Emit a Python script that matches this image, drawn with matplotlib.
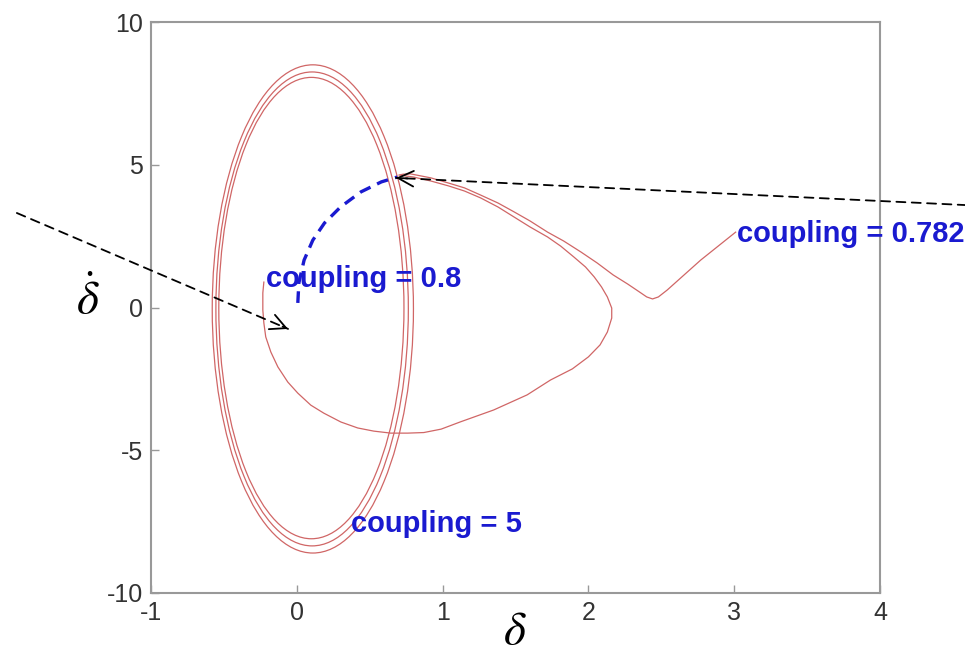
import matplotlib
matplotlib.use("Agg")
import matplotlib.pyplot as plt
from matplotlib.patches import Ellipse

plt.rcParams["font.family"] = ["Liberation Sans", "DejaVu Sans"]
plt.rcParams["mathtext.fontset"] = "stix"
plt.rcParams["axes.unicode_minus"] = False

# Closed orbits for coupling = 5 (centre x, centre y, half-width, half-height)
orbit_cx = [0.11, 0.105, 0.10]
orbit_cy = [-0.05, -0.05, -0.02]
orbit_hw = [0.69, 0.66, 0.635]
orbit_hh = [8.55, 8.30, 8.08]

# Trajectory for coupling = 0.782
traj_x = [3.01, 2.77, 2.54, 2.48, 2.44, 2.40, 2.36, 2.27, 2.17, 2.06, 1.95, 1.83,
          1.72, 1.60, 1.49, 1.38, 1.26, 1.15, 1.04, 0.92, 0.78, 0.73, 0.70,
          0.80, 0.92, 1.04, 1.15, 1.26, 1.38, 1.49, 1.60, 1.72, 1.81, 1.90, 1.98,
          2.04, 2.09, 2.13, 2.16, 2.16, 2.13, 2.08, 2.00, 1.89, 1.74, 1.58, 1.35,
          1.12, 0.99, 0.871, 0.761, 0.645, 0.528, 0.418, 0.302, 0.185, 0.096,
          0.007, -0.062, -0.130, -0.178, -0.213, -0.226, -0.233, -0.233, -0.226]
traj_y = [2.64, 1.66, 0.61, 0.37, 0.30, 0.37, 0.51, 0.82, 1.14, 1.56, 1.94, 2.33,
          2.64, 3.03, 3.35, 3.66, 3.94, 4.19, 4.36, 4.54, 4.68, 4.67, 4.64,
          4.57, 4.43, 4.26, 4.08, 3.84, 3.52, 3.17, 2.82, 2.47, 2.15, 1.77, 1.42,
          1.07, 0.72, 0.37, -0.02, -0.37, -0.86, -1.31, -1.73, -2.15, -2.54, -3.06,
          -3.59, -4.01, -4.26, -4.38, -4.40, -4.40, -4.33, -4.22, -4.01, -3.70,
          -3.42, -3.00, -2.61, -2.08, -1.56, -1.03, -0.54, -0.09, 0.51, 0.89]

# Trajectory for coupling = 0.8
blue_x = [0.007, 0.014, 0.05, 0.11, 0.19, 0.30, 0.44, 0.58, 0.69]
blue_y = [0.16, 0.86, 1.66, 2.36, 2.96, 3.52, 4.05, 4.40, 4.57]

labels = ["coupling = 0.8", "coupling = 0.782", "coupling = 5"]
label_x = [-0.21, 3.02, 0.37]
label_y = [0.72, 2.29, -7.86]

# Pointer arrows: (tail, tip)
arrow_tails = [(-1.92, 3.31), (4.70, 3.56)]
arrow_tips = [(-0.06, -0.75), (0.68, 4.54)]

xticks = [-1, 0, 1, 2, 3, 4]
yticks = [-10, -5, 0, 5, 10]

red = "#d06666"
blue = "#1a1ad0"

fig = plt.figure(figsize=(9.65, 6.53), dpi=100)
ax = fig.add_axes([151 / 965, 1 - 593 / 653, (880 - 151) / 965, (593 - 22) / 653])

for cx, cy, hw, hh in zip(orbit_cx, orbit_cy, orbit_hw, orbit_hh):
    ax.add_patch(Ellipse((cx, cy), 2 * hw, 2 * hh, fill=False, edgecolor=red, lw=0.9))

ax.plot(traj_x, traj_y, color=red, lw=0.9)
ax.plot(blue_x, blue_y, color=blue, lw=2.4, ls=(0, (3.5, 2.2)))

for txt, lx, ly in zip(labels, label_x, label_y):
    ax.text(lx, ly, txt, color=blue, fontsize=21, fontweight="bold",
            ha="left", va="baseline", clip_on=False)

for (tx, ty), (hx, hy) in zip(arrow_tails, arrow_tips):
    ax.annotate("", xy=(hx, hy), xytext=(tx, ty), annotation_clip=False,
                arrowprops=dict(arrowstyle="-", color="black", lw=1.3,
                                ls=(0, (5, 3.5)), shrinkA=0, shrinkB=0))
    # solid open head at the tip
    fx = hx + (tx - hx) * 0.02
    fy = hy + (ty - hy) * 0.02
    ax.annotate("", xy=(hx, hy), xytext=(fx, fy), annotation_clip=False,
                arrowprops=dict(arrowstyle="->,head_length=0.8,head_width=0.4",
                                mutation_scale=14, color="black", lw=1.3,
                                shrinkA=0, shrinkB=0))

ax.set_xlim(-1, 4)
ax.set_ylim(-10, 10)
ax.set_xticks(xticks)
ax.set_yticks(yticks)
ax.tick_params(direction="in", length=6, width=1, color="#999999",
               labelsize=18, labelcolor="#333333", pad=6)
for s in ax.spines.values():
    s.set_color("#999999")
    s.set_linewidth(1.5)

fig.text(515 / 965, 1 - 632 / 653, r"$\delta$", fontsize=34, ha="center", va="center")
fig.text(88 / 965, 1 - 300 / 653, r"$\dot{\delta}$", fontsize=34, ha="center", va="center")

fig.savefig("out.png", dpi=100, facecolor="white")
